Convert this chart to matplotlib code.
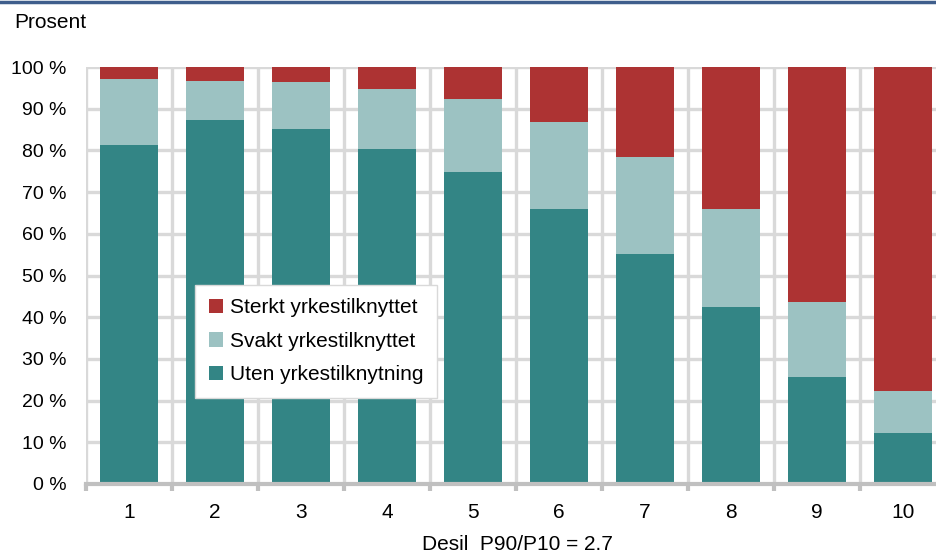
import numpy as np
import matplotlib.pyplot as plt
from matplotlib.ticker import FixedLocator

plt.rcParams['font.family'] = ['Liberation Sans', 'DejaVu Sans']

# Data
desiler = ['1', '2', '3', '4', '5', '6', '7', '8', '9', '10']
uten = [81.3, 87.3, 85.1, 80.3, 74.8, 65.9, 55.2, 42.4, 25.7, 12.2]
svakt_top = [97.1, 96.6, 96.4, 94.7, 92.3, 86.8, 78.4, 65.9, 43.6, 22.3]
svakt = [s - u for s, u in zip(svakt_top, uten)]
sterkt = [100 - s for s in svakt_top]

c_sterkt = '#AD3333'
c_svakt = '#9CC2C2'
c_uten = '#338585'
c_grid = '#D9D9D9'
fs = 15

fig = plt.figure(figsize=(9.37, 5.53), dpi=100)
# axes runs a bit past the right edge of the picture, as in the original
ax = fig.add_axes([86 / 937, (553 - 484) / 553, 860 / 937, 417 / 553])

x = np.arange(1, len(desiler) + 1)
w = 0.675
ax.bar(x, uten, w, color=c_uten, label='Uten yrkestilknytning', zorder=3)
ax.bar(x, svakt, w, bottom=uten, color=c_svakt, label='Svakt yrkestilknyttet', zorder=3)
ax.bar(x, sterkt, w, bottom=svakt_top, color=c_sterkt, label='Sterkt yrkestilknyttet', zorder=3)

ax.set_xlim(0.5, 10.5)
ax.set_ylim(0, 100)
ax.set_xticks(x)
ax.set_xticklabels(desiler)
ax.set_yticks(range(0, 101, 10))
ax.set_yticklabels([f'{v} %' for v in range(0, 101, 10)])

# grid: horizontal at each 10 %, vertical at category boundaries
for v in range(10, 101, 10):
    ax.axhline(v, color=c_grid, lw=2.4, zorder=1)
for b in np.arange(0.5, 11, 1):
    ax.axvline(b, color=c_grid, lw=2.4, zorder=1)

for s in ['top', 'right', 'left']:
    ax.spines[s].set_visible(False)
ax.spines['bottom'].set_color('#C0C0C0')
ax.spines['bottom'].set_linewidth(3)
ax.spines['bottom'].set_zorder(4)

ax.xaxis.set_minor_locator(FixedLocator(np.arange(0.5, 11, 1)))
ax.tick_params(axis='x', which='major', length=0, pad=14, labelsize=fs)
ax.tick_params(axis='x', which='minor', length=5, width=3, color='#C0C0C0')
ax.tick_params(axis='y', length=0, pad=14, labelsize=14)

handles, labels = ax.get_legend_handles_labels()
leg = ax.legend(handles[::-1], labels[::-1], loc='upper left',
                bbox_to_anchor=(0.127, 0.478), fontsize=fs, frameon=True,
                fancybox=False, framealpha=1, edgecolor='#D9D9D9',
                handlelength=0.7, handleheight=0.7, handletextpad=0.3,
                labelspacing=0.7, borderpad=0.65, borderaxespad=0)
leg.get_frame().set_linewidth(1)
leg.set_zorder(5)

fig.text(14 / 937, 1 - 22 / 553, 'Prosent', fontsize=fs, va='center', ha='left')
fig.text(517 / 937, 1 - 544 / 553, 'Desil  P90/P10 = 2.7', fontsize=fs,
         va='center', ha='center')

# dark blue line along the top
fig.add_artist(plt.Line2D([0, 1], [1 - 1.5 / 553, 1 - 1.5 / 553],
                          color='#3F5E8C', lw=2.5, transform=fig.transFigure))

fig.savefig('out.png', dpi=100)
